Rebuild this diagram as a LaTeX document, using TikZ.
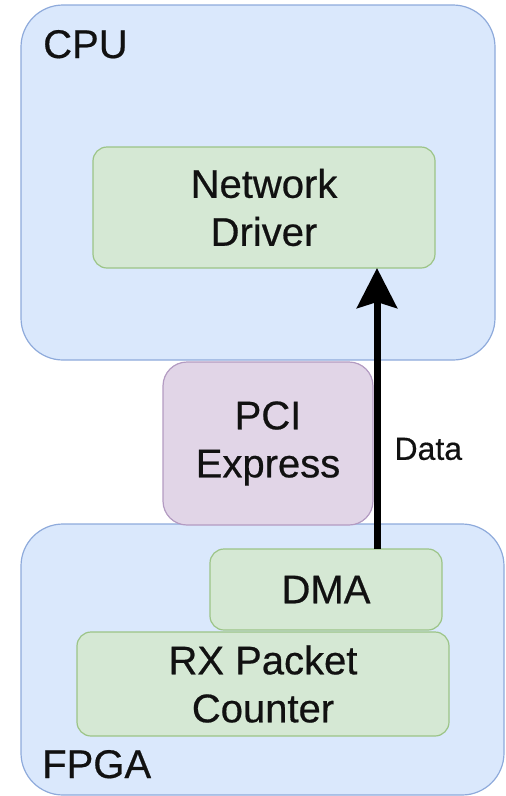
\documentclass[tikz,border=0pt]{standalone}
\usepackage{fontspec}
\setmainfont{Liberation Sans}[FakeBold=0.5]
\usetikzlibrary{arrows.meta}
\definecolor{bluefill}{HTML}{DAE8FC}
\definecolor{bluedraw}{HTML}{8EAADB}
\definecolor{greenfill}{HTML}{D5E8D4}
\definecolor{greendraw}{HTML}{9CC487}
\definecolor{purplefill}{HTML}{E1D5E7}
\definecolor{purpledraw}{HTML}{B39BC2}
\definecolor{ink}{HTML}{111111}
\begin{document}
\begin{tikzpicture}[x=1pt,y=-1pt,
  box/.style={draw, line width=1.2pt, inner sep=0pt, outer sep=0pt,
    anchor=north west, align=center, text=ink,
    font=\fontsize{40}{48}\selectfont},
  chip/.style={box, fill=bluefill, draw=bluedraw, rounded corners=42pt},
  block/.style={box, fill=greenfill, draw=greendraw, rounded corners=14pt},
  bus/.style={box, fill=purplefill, draw=purpledraw, rounded corners=24pt},
  title/.style={anchor=base west, inner sep=0pt, text=ink,
    font=\fontsize{40}{48}\selectfont},
  flow/.style={line width=7pt, draw=black,
    -{Stealth[length=40pt, width=40pt, inset=6pt]}}]
\useasboundingbox (0,0) rectangle (506,796);

% host side
\node[chip, minimum width=474pt, minimum height=355pt] (cpu) at (21,5) {};
\node[title] (cpulbl) at (43,58) {CPU};
\node[block, minimum width=342pt, minimum height=121pt] (nd) at (93,147)
  {Network\\Driver};

% FPGA side
\node[chip, minimum width=483pt, minimum height=271pt] (fpga) at (21,524) {};
\node[title] (fpgalbl) at (42,778) {FPGA};

% interconnect
\node[bus, minimum width=210pt, minimum height=163pt] (pcie) at (163,362)
  {PCI\\Express};

\node[block, minimum width=232pt, minimum height=81pt] (dma) at (210,549)
  {\raisebox{-5pt}{DMA}};
\node[block, minimum width=372pt, minimum height=104pt] (rx) at (77,632)
  {RX Packet\\Counter};

% data path from DMA up to the driver
\coordinate (lane) at (377,0);
\draw[flow] (dma.north -| lane) -- (nd.south -| lane)
  node[pos=0.356, anchor=west, xshift=14pt, inner sep=0pt, text=ink,
       font=\fontsize{32}{38}\selectfont] (datalbl) {Data};
\end{tikzpicture}
\end{document}
